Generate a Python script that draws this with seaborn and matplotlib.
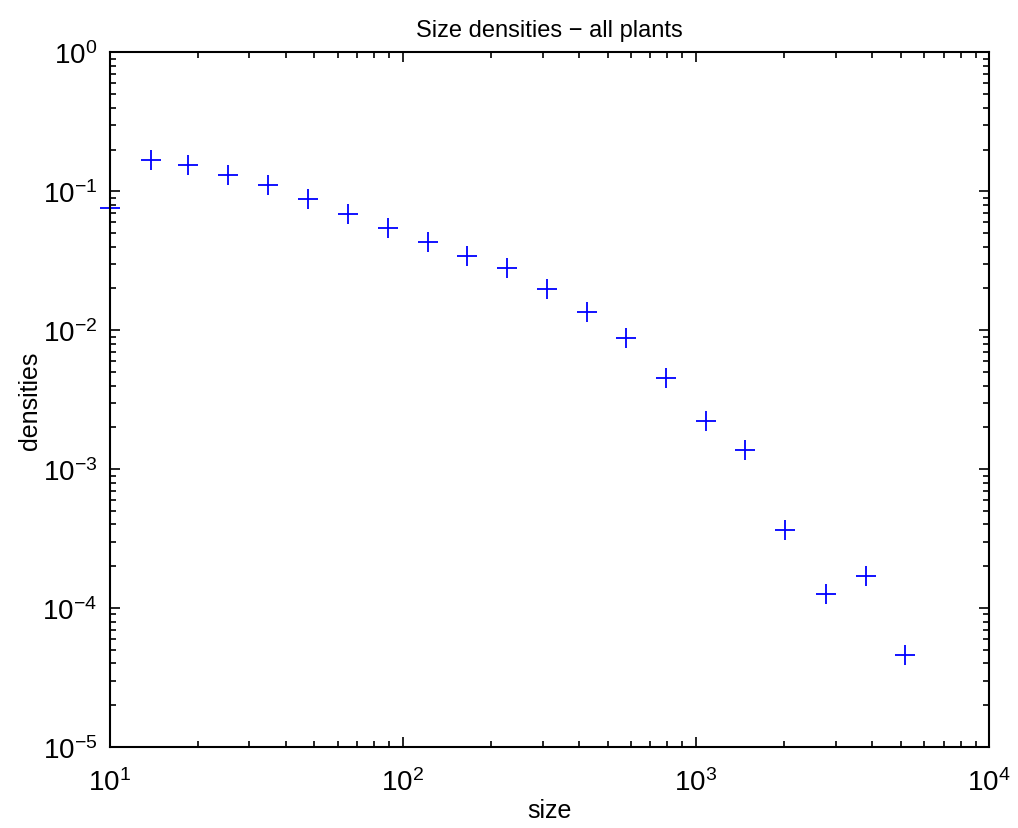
import numpy as np
import pandas as pd
from matplotlib import pyplot as plt
from matplotlib.ticker import LogLocator, NullFormatter
import seaborn as sns

# size bins and densities
size = [10, 13.8, 18.5, 25.3, 34.6, 47.5, 65, 89, 122, 166, 227, 311, 426,
        580, 794, 1087, 1477, 2022, 2772, 3796, 5164]
densities = [0.076, 0.169, 0.155, 0.132, 0.112, 0.0885, 0.0689, 0.0546, 0.0433,
             0.0343, 0.0281, 0.0198, 0.0135, 0.00879, 0.00452, 0.00221, 0.00137,
             0.000362, 0.000127, 0.000171, 0.000046]

df = pd.DataFrame({'size': size, 'densities': densities})

sns.set_style('white')
plt.rcParams['font.family'] = ['Liberation Sans', 'DejaVu Sans']
plt.rcParams['text.color'] = 'black'
plt.rcParams['axes.labelcolor'] = 'black'

fig = plt.figure(figsize=(10.18, 8.29), dpi=100)
ax = fig.add_axes([0.1076, 0.0977, 0.9715 - 0.1076, 0.9355 - 0.0977])

sns.scatterplot(data=df, x='size', y='densities', ax=ax, marker='+',
                color='#0000ff', s=200, linewidth=1.3, clip_on=False, legend=False)

ax.set_xscale('log')
ax.set_yscale('log')
ax.set_xlim(10, 1e4)
ax.set_ylim(1e-5, 1)

ax.xaxis.set_major_locator(LogLocator(base=10, numticks=10))
ax.yaxis.set_major_locator(LogLocator(base=10, numticks=10))
ax.xaxis.set_minor_locator(LogLocator(base=10, subs=np.arange(2, 10), numticks=20))
ax.yaxis.set_minor_locator(LogLocator(base=10, subs=np.arange(2, 10), numticks=20))
ax.xaxis.set_minor_formatter(NullFormatter())
ax.yaxis.set_minor_formatter(NullFormatter())

ax.tick_params(which='both', direction='in', top=True, right=True,
               bottom=True, left=True, colors='black', width=1.2)
ax.tick_params(which='major', length=7, labelsize=20, pad=9)
ax.tick_params(axis='x', which='major', pad=15)
ax.tick_params(which='minor', length=4)
for sp in ax.spines.values():
    sp.set_color('black')
    sp.set_linewidth(1.5)

ax.set_title('Size densities \u2212 all plants', fontsize=17, pad=12)
ax.set_xlabel('size', fontsize=18, labelpad=2)
ax.set_ylabel('densities', fontsize=18, labelpad=0)

plt.savefig('out.png', dpi=100)
